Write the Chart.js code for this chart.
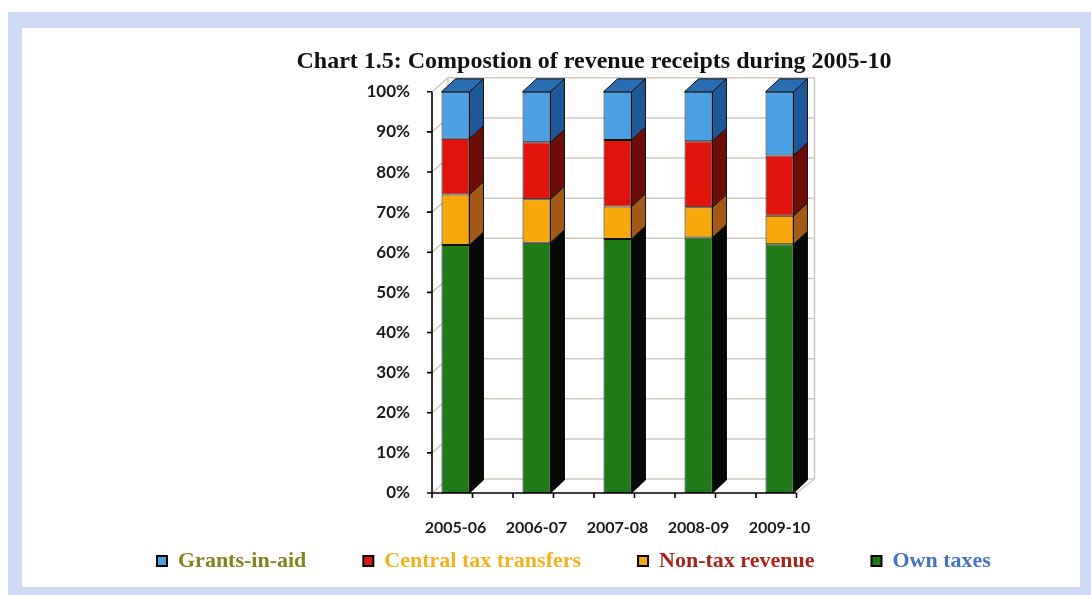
<!DOCTYPE html>
<html><head><meta charset="utf-8">
<script src="https://cdn.jsdelivr.net/npm/chart.js@4.4.0/dist/chart.umd.min.js"></script>
<style>
html,body{margin:0;padding:0;background:#fff;width:1091px;height:595px;overflow:hidden;}
#frame{position:absolute;left:8px;top:12px;width:1083px;height:583px;background:#cfdaf4;}
#inner{position:absolute;left:22px;top:28px;width:1058px;height:559px;background:#fff;}
#wrap{position:absolute;left:0;top:0;width:1091px;height:595px;}
</style></head>
<body>
<div id="frame"></div><div id="inner"></div>
<div id="wrap"><canvas id="c" width="1091" height="595"></canvas></div>
<script>
const titleText = 'Chart 1.5: Compostion of revenue receipts during 2005-10';
const categories = ['2005-06', '2006-07', '2007-08', '2008-09', '2009-10'];
const ownTaxes = [61.8, 62.4, 63.3, 63.7, 62.0];
const nonTaxRevenue = [12.6, 10.8, 8.1, 7.5, 7.1];
const centralTaxTransfers = [13.9, 14.2, 16.6, 16.5, 15.0];
const grantsInAid = [11.7, 12.6, 12.0, 12.3, 15.9];
const yTickValues = [0, 10, 20, 30, 40, 50, 60, 70, 80, 90, 100];
const seriesNames = ['Own taxes', 'Non-tax revenue', 'Central tax transfers', 'Grants-in-aid'];

const frontColors = ['#1f7a17', '#f7a90c', '#e0140d', '#4b9fe3'];
const sideColors = ['#070907', '#a35a17', '#6e0c08', '#1e5896'];
const topColor = '#2a6db3';
const legendTextColors = ['#4872c2', '#a8241a', '#f2b21c', '#84841c'];

const WALL_DX = 16, WALL_DY = -14;
const BAR_DX = 14, BAR_DY = -13;
const AXIS_INSET = 17;

const threeD = {
  id: 'threeD',
  beforeDatasetsDraw(chart) {
    const ctx = chart.ctx, ys = chart.scales.y, xs = chart.scales.x, area = chart.chartArea;
    const ax = area.left + AXIS_INSET;
    const half = (xs.getPixelForValue(1) - xs.getPixelForValue(0)) / 2;
    const axR = ax + 9 * half;
    const top = ys.getPixelForValue(100), bot = ys.getPixelForValue(0);
    ctx.save();
    ctx.strokeStyle = '#cfc8c0';
    ctx.lineWidth = 1.5;
    ctx.beginPath();
    yTickValues.forEach(v => {
      const py = ys.getPixelForValue(v);
      ctx.moveTo(ax, py);
      ctx.lineTo(ax + WALL_DX, py + WALL_DY);
      ctx.lineTo(axR + WALL_DX + 2, py + WALL_DY);
    });
    ctx.moveTo(ax + WALL_DX, top + WALL_DY);
    ctx.lineTo(ax + WALL_DX, bot + WALL_DY);
    ctx.moveTo(axR + WALL_DX + 2, top + WALL_DY);
    ctx.lineTo(axR + WALL_DX + 2, bot + WALL_DY);
    ctx.moveTo(axR, bot);
    ctx.lineTo(axR + WALL_DX + 2, bot + WALL_DY);
    ctx.stroke();
    ctx.restore();
  },
  afterDatasetsDraw(chart) {
    const ctx = chart.ctx, ys = chart.scales.y, xs = chart.scales.x, area = chart.chartArea;
    ctx.save();
    ctx.lineWidth = 1;
    ctx.strokeStyle = '#111';
    const n = chart.data.datasets.length;
    chart.data.datasets.forEach((ds, di) => {
      const meta = chart.getDatasetMeta(di);
      meta.data.forEach(bar => {
        const p = bar.getProps(['x', 'y', 'base', 'width'], true);
        const l = p.x - p.width / 2, r = p.x + p.width / 2, t = Math.min(p.y, p.base), b = Math.max(p.y, p.base);
        ctx.beginPath();
        ctx.moveTo(r, t);
        ctx.lineTo(r + BAR_DX, t + BAR_DY);
        ctx.lineTo(r + BAR_DX, b + BAR_DY);
        ctx.lineTo(r, b);
        ctx.closePath();
        ctx.fillStyle = sideColors[di];
        ctx.fill();
        ctx.stroke();
        if (di === n - 1) {
          ctx.beginPath();
          ctx.moveTo(l, t);
          ctx.lineTo(l + BAR_DX, t + BAR_DY);
          ctx.lineTo(r + BAR_DX, t + BAR_DY);
          ctx.lineTo(r, t);
          ctx.closePath();
          ctx.fillStyle = topColor;
          ctx.fill();
          ctx.stroke();
        }
      });
    });
    // front axes
    const ax = area.left + AXIS_INSET;
    const half = (xs.getPixelForValue(1) - xs.getPixelForValue(0)) / 2;
    const top = ys.getPixelForValue(100), bot = ys.getPixelForValue(0);
    ctx.strokeStyle = '#000';
    ctx.lineWidth = 1.6;
    ctx.beginPath();
    ctx.moveTo(ax, top); ctx.lineTo(ax, bot);
    yTickValues.forEach(v => { const py = ys.getPixelForValue(v); ctx.moveTo(ax - 5, py); ctx.lineTo(ax, py); });
    ctx.moveTo(ax, bot); ctx.lineTo(ax + 9 * half, bot);
    for (let k = 0; k <= 9; k++) { ctx.moveTo(ax + k * half, bot); ctx.lineTo(ax + k * half, bot + 5); }
    ctx.stroke();
    ctx.restore();
  }
};

const datasets = [ownTaxes, nonTaxRevenue, centralTaxTransfers, grantsInAid].map((vals, i) => ({
  label: seriesNames[i],
  data: vals,
  backgroundColor: frontColors[i],
  borderColor: '#111',
  borderWidth: 1,
  borderSkipped: false,
  stack: 's',
  categoryPercentage: 1,
  barPercentage: 0.345
}));

new Chart(document.getElementById('c'), {
  type: 'bar',
  data: { labels: categories, datasets },
  plugins: [threeD],
  options: {
    responsive: false,
    animation: false,
    devicePixelRatio: 1,
    layout: { padding: { left: 100, right: 3, top: 47, bottom: 13 } },
    scales: {
      x: {
        stacked: true,
        grid: { display: false, drawTicks: false },
        border: { display: false },
        ticks: { font: { family: 'Lato', size: 16, weight: 'bold' }, color: '#1a1a1a', mirror: true, padding: -44, maxRotation: 0, autoSkip: false },
        afterFit(s) { s.height = 0; }
      },
      y: {
        stacked: true,
        min: 0, max: 100,
        grid: { display: false, drawTicks: false },
        border: { display: false },
        ticks: { stepSize: 10, callback: v => v + '%', font: { family: 'Lato', size: 17, weight: 'bold' }, color: '#1a1a1a', padding: 5 },
        afterFit(s) { s.width = 315; }
      },
      y2: {
        position: 'right',
        display: true,
        grid: { display: false, drawTicks: false },
        border: { display: false },
        ticks: { display: false },
        afterFit(s) { s.width = 268; }
      }
    },
    plugins: {
      tooltip: { enabled: false },
      title: {
        display: true,
        text: titleText,
        font: { family: 'Liberation Serif', size: 24, weight: 'bold' },
        color: '#111',
        padding: { top: 0, bottom: 16 }
      },
      legend: {
        position: 'bottom',
        align: 'start',
        labels: {
          boxWidth: 10,
          boxHeight: 10,
          padding: 57,
          font: { family: 'Liberation Serif', size: 22, weight: 'bold' },
          generateLabels(chart) {
            return [3, 2, 1, 0].map(i => ({
              text: seriesNames[i],
              fillStyle: frontColors[i],
              strokeStyle: '#000',
              lineWidth: 2,
              fontColor: legendTextColors[i],
              datasetIndex: i,
              hidden: false
            }));
          }
        }
      }
    }
  }
});
</script>
</body></html>
